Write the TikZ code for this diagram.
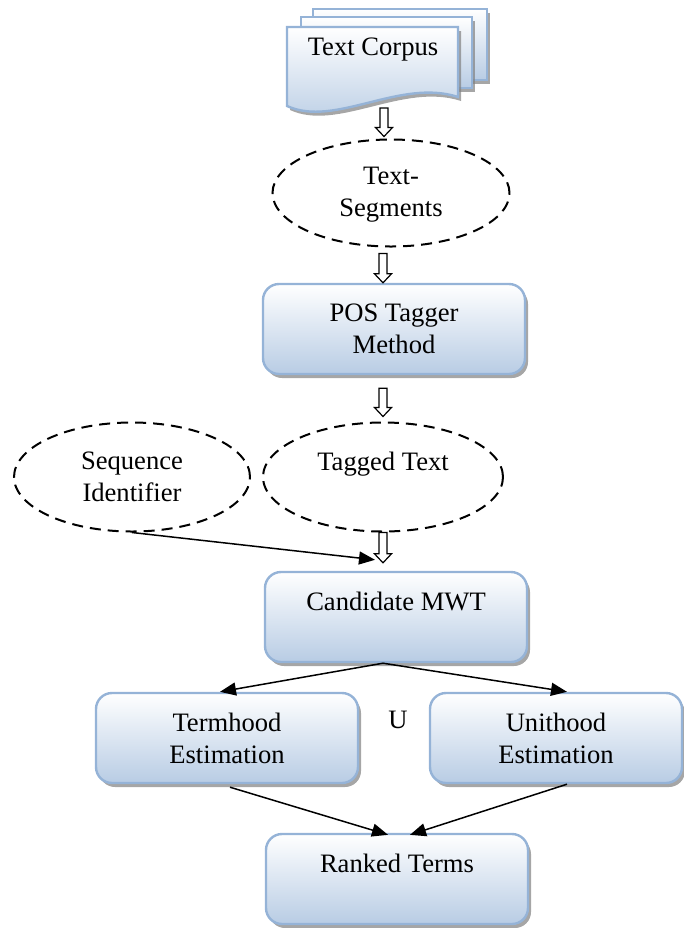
\documentclass[tikz,border=0pt]{standalone}
\usepackage{fontspec}
\setmainfont{Liberation Serif}
\usetikzlibrary{shapes.geometric,shadows,calc,arrows.meta}
\definecolor{boxline}{RGB}{149,179,215}
\definecolor{boxfill}{RGB}{184,204,228}

\begin{document}
\begin{tikzpicture}[x=0.5pt,y=-0.5pt,
    font=\fontsize{13.3}{16}\selectfont,
    page/.style={draw=boxline,line width=1.2pt,top color=white,bottom color=boxfill,
      drop shadow={shadow xshift=1.5pt,shadow yshift=-2pt,fill=gray,opacity=.7}},
    box/.style={page,rounded corners=8pt,minimum width=131pt,minimum height=45pt,align=center,inner sep=0pt},
    blob/.style={ellipse,draw,line width=1pt,dash pattern=on 5.5pt off 3.5pt,minimum width=118pt,minimum height=54.5pt,align=center,inner sep=0pt},
    hollow/.style={draw,line width=0.6pt,fill=white,to path={
      let \p1=(\tikztostart), \p2=(\tikztotarget) in
      (\x1-2pt,\y1) -- (\x1-2pt,\y2+4.5pt) -- (\x1-4.25pt,\y2+4.5pt) -- (\x1,\y2)
      -- (\x1+4.25pt,\y2+4.5pt) -- (\x1+2pt,\y2+4.5pt) -- (\x1+2pt,\y1) -- cycle}},
    link/.style={-{Triangle[length=8pt,width=6.5pt]},line width=0.75pt}]
  \useasboundingbox (0,0) rectangle (684,928);

  % stacked pages of the corpus
  \path[page] (313,9) rectangle (487,80);
  \path[page] (301,17) rectangle (472,88);
  \path[page] (287,27) -- (458,27) -- (458,97) .. controls (400,78) and (335,128) .. (287,106) -- cycle;
  \node (corpus) at (373,50) {Text Corpus};
  \coordinate (corpusout) at (384,108);

  \node[blob,minimum width=118.5pt,minimum height=53.5pt] (segments) at (391,193) {\\[-6pt]Text-\\Segments};
  \node[box] (pos) at (394,329) {POS Tagger\\Method};
  \node[blob] (seq) at (132,477) {Sequence\\Identifier};
  \node[blob,minimum width=120pt] (tagged) at (383,477) {Tagged Text\\~};
  \node[box] (cand) at (396,617) {Candidate MWT\\~};
  \node[box] (term) at (227,738) {Termhood\\Estimation};
  \node (u) at (398,720) {U};
  \node[box,minimum width=126pt] (unit) at (556,738) {Unithood\\Estimation};
  \node[box] (rank) at (397,879) {Ranked Terms\\~};

  \draw[hollow] (corpusout) to ($(segments.north)+(0,-2)$);
  \draw[hollow] ($(segments.south -| tagged)+(0,6)$) to (pos.north);
  \draw[hollow] ($(pos.south -| tagged)+(0,13)$) to ($(tagged.north)+(0,-5)$);
  \draw[hollow] (tagged.south) to ($(cand.north)+(0,-8)$);
  \draw[link] (seq.south) -- ($(cand.north)+(-21,-11)$);
  \draw[link] (tagged |- cand.south) -- ($(term.north)+(-7,0)$);
  \draw[link] (tagged |- cand.south) -- ($(unit.north)+(11,0)$);
  \draw[link] ($(term.south)+(3,3)$) -- ($(rank.north)+(-9,2)$);
  \draw[link] ($(unit.south)+(11,0)$) -- ($(rank.north)+(13,2)$);
\end{tikzpicture}
\end{document}
